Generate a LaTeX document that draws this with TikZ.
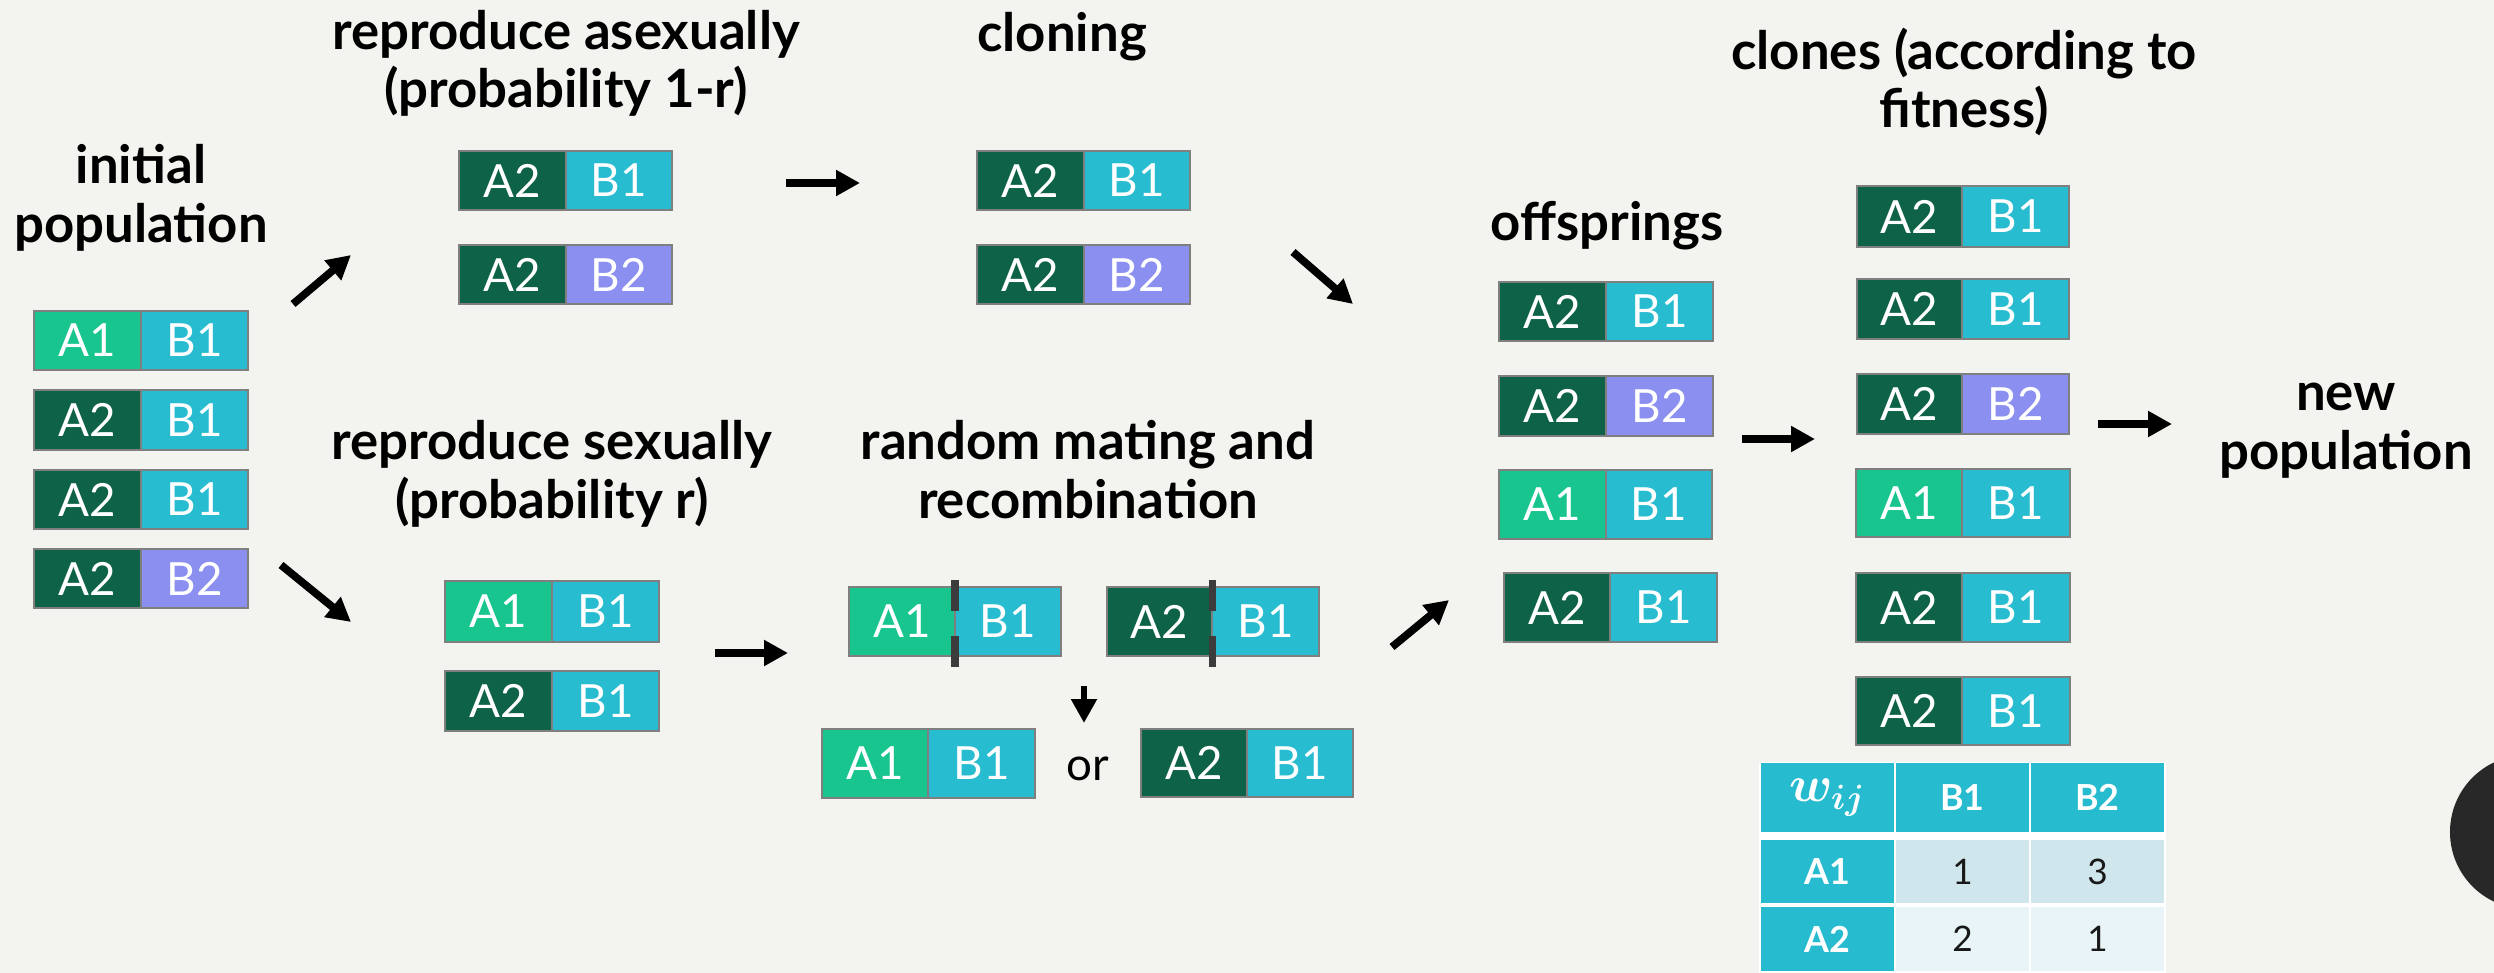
\documentclass[tikz,border=0pt]{standalone}
\usepackage{fontspec}
\setmainfont{Lato}
\usetikzlibrary{arrows.meta}
\definecolor{bg}{HTML}{F3F3EF}
\definecolor{colA1}{HTML}{19C58F}
\definecolor{colA2}{HTML}{0E6248}
\definecolor{colB1}{HTML}{27BCD0}
\definecolor{colB2}{HTML}{8A8FF0}
\definecolor{boxgray}{HTML}{7F7F7F}
\definecolor{cutgray}{HTML}{3C3C3C}
\definecolor{thead}{HTML}{27BBCF}
\definecolor{trowa}{HTML}{CFE7EC}
\definecolor{trowb}{HTML}{E8F4F7}
\definecolor{darkdot}{HTML}{282828}
\tikzset{
  gene/.style={draw=boxgray, line width=0.75pt, inner sep=0pt, text=white,
    font=\fontsize{13}{15}\selectfont},
  ttl/.style={align=center, anchor=base, inner sep=0pt,
    font=\fontsize{15}{16.5}\selectfont\bfseries},
  arr/.style={line width=2.2pt, -{Triangle[length=6.8pt,width=7pt]}},
  cutmark/.style={draw=cutgray, line width=2pt},
  cell/.style={inner sep=0pt, draw=none},
  thd/.style={text=white, font=\fontsize{10.2}{12}\selectfont\bfseries},
  tnum/.style={text=black!90, font=\fontsize{10}{12}\selectfont}
}
\newcommand{\gbox}[8]{%
  \node[gene, fill=col#7, minimum width={(#3-#2)*0.01cm}, minimum height={(#6-#5)*0.01cm}]
    (#1a) at ({(#2+#3)/2},{(#5+#6)/2}) {#7};
  \node[gene, fill=col#8, minimum width={(#4-#3)*0.01cm}, minimum height={(#6-#5)*0.01cm}]
    (#1b) at ({(#3+#4)/2},{(#5+#6)/2}) {#8};
}
\newcommand{\tcell}[8]{%
  \node[cell, #7, fill=#6, minimum width={(#3-#2)*0.01cm}, minimum height={(#5-#4)*0.01cm}]
    (#1) at ({(#2+#3)/2},{(#4+#5)/2}) {#8};
}
\begin{document}
\begin{tikzpicture}[x=0.01cm, y=-0.01cm]
\useasboundingbox (0,0) rectangle (2494,973);
\begin{scope}
\clip (0,0) rectangle (2494,973);
\fill[bg] (0,0) rectangle (2494,973);
\fill[darkdot] (2527,832) circle[radius=0.77cm];

% titles (anchor = baseline of last line)
\node[ttl] (tinit) at (141,242) {initial\\population};
\node[ttl] (tasex) at (566,108) {reproduce asexually\\(probability 1-r)};
\node[ttl] (tclon) at (1062,52) {cloning};
\node[ttl] (tsex) at (552,518) {reproduce sexually\\(probability r)};
\node[ttl] (tmate) at (1088,518) {random mating and\\recombination};
\node[ttl] (toff) at (1607,241) {offsprings};
\node[ttl] (tclones) at (1964,128) {clones (according to\\fitness)};
\node[ttl] (tnew) at (2346,469) {new\\population};

% initial population
\gbox{i1}{34}{141}{248}{311}{370}{A1}{B1}
\gbox{i2}{34}{141}{248}{390}{450}{A2}{B1}
\gbox{i3}{34}{141}{248}{470}{529}{A2}{B1}
\gbox{i4}{34}{141}{248}{549}{608}{A2}{B2}

% asexual
\gbox{as1}{459}{566}{672}{151}{210}{A2}{B1}
\gbox{as2}{459}{566}{672}{245}{304}{A2}{B2}
% cloning
\gbox{cl1}{977}{1084}{1190}{151}{210}{A2}{B1}
\gbox{cl2}{977}{1084}{1190}{245}{304}{A2}{B2}

% sexual
\gbox{s1}{445}{552}{659}{581}{642}{A1}{B1}
\gbox{s2}{445}{552}{659}{671}{731}{A2}{B1}

% recombination
\gbox{r1}{849}{955}{1061}{587}{656}{A1}{B1}
\gbox{r2}{1107}{1212}{1319}{587}{656}{A2}{B1}
\draw[cutmark] (955,580) -- (955,611);
\draw[cutmark] (955,636) -- (955,667);
\draw[cutmark] (1212,580) -- (1212,611);
\draw[cutmark] (1212,636) -- (1212,667);
\gbox{q1}{822}{928}{1035}{729}{798}{A1}{B1}
\gbox{q2}{1141}{1247}{1353}{729}{797}{A2}{B1}
\node[inner sep=0pt, anchor=base, font=\fontsize{13}{15}\selectfont] (or) at (1088,780) {or};

% offsprings
\gbox{o1}{1499}{1606}{1713}{282}{341}{A2}{B1}
\gbox{o2}{1499}{1606}{1713}{376}{436}{A2}{B2}
\gbox{o3}{1499}{1606}{1712}{470}{539}{A1}{B1}
\gbox{o4}{1504}{1610}{1717}{573}{642}{A2}{B1}

% clones
\gbox{c1}{1857}{1962}{2069}{186}{247}{A2}{B1}
\gbox{c2}{1857}{1962}{2069}{279}{339}{A2}{B1}
\gbox{c3}{1857}{1962}{2069}{374}{434}{A2}{B2}
\gbox{c4}{1856}{1962}{2070}{469}{537}{A1}{B1}
\gbox{c5}{1856}{1962}{2070}{573}{642}{A2}{B1}
\gbox{c6}{1856}{1962}{2070}{677}{745}{A2}{B1}

% arrows
\coordinate (a1s) at (293,304); \coordinate (a1e) at (351,255);
\coordinate (a2s) at (281,565); \coordinate (a2e) at (351,622);
\coordinate (a3s) at (786,183); \coordinate (a3e) at (860,183);
\coordinate (a4s) at (715,653); \coordinate (a4e) at (788,653);
\coordinate (a5s) at (1293,252); \coordinate (a5e) at (1353,304);
\coordinate (a6s) at (1392,647); \coordinate (a6e) at (1449,600);
\coordinate (a7s) at (1742,439); \coordinate (a7e) at (1815,439);
\coordinate (a8s) at (2098,424); \coordinate (a8e) at (2172,424);
\coordinate (a9s) at (1084,686); \coordinate (a9e) at (1084,723);
\draw[arr] (a1s) -- (a1e);
\draw[arr] (a2s) -- (a2e);
\draw[arr] (a3s) -- (a3e);
\draw[arr] (a4s) -- (a4e);
\draw[arr] (a5s) -- (a5e);
\draw[arr] (a6s) -- (a6e);
\draw[arr] (a7s) -- (a7e);
\draw[arr] (a8s) -- (a8e);
\draw[arr, line width=1.8pt] (a9s) -- (a9e);

% fitness table
\fill[white] (1759,762) rectangle (2166,975);
\tcell{hw}{1761}{1894}{763}{832}{thead}{text=white, font=\fontsize{14}{16}\selectfont\boldmath}{$w_{ij}$}
\tcell{hb1}{1896}{2029}{763}{832}{thead}{thd}{B1}
\tcell{hb2}{2031}{2164}{763}{832}{thead}{thd}{B2}
\tcell{ha1}{1761}{1894}{840}{903}{thead}{thd}{A1}
\tcell{v11}{1896}{2029}{840}{903}{trowa}{tnum}{1}
\tcell{v12}{2031}{2164}{840}{903}{trowa}{tnum}{3}
\tcell{ha2}{1761}{1894}{907}{971}{thead}{thd}{A2}
\tcell{v21}{1896}{2029}{907}{971}{trowb}{tnum}{2}
\tcell{v22}{2031}{2164}{907}{971}{trowb}{tnum}{1}
\end{scope}
\end{tikzpicture}
\end{document}
